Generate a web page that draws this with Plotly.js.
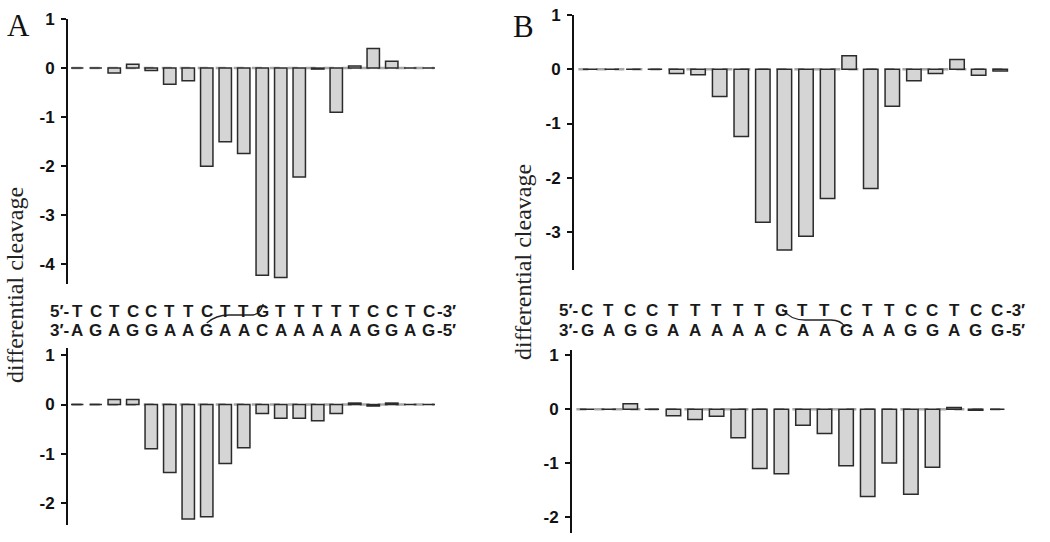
<!DOCTYPE html>
<html>
<head>
<meta charset="utf-8">
<script src="https://cdn.plot.ly/plotly-3.0.1.min.js"></script>
<style>html,body{margin:0;padding:0;background:#fff;}#chart{width:1050px;height:542px;}</style>
</head>
<body>
<div id="chart"></div>
<script>
// ---- data ----
const seqA_top = "TCTCCTTCTTGTTTTTCCTC".split("");
const seqA_bot = "AGAGGAAGAACAAAAAGGAG".split("");
const seqB_top = "CTCCTTTTTGTTCTTCCTCC".split("");
const seqB_bot = "GAGGAAAAACAAGAAGGAGG".split("");

const positions = Array.from({length: 20}, (_, i) => i);

const valuesA_top = [0, 0, -0.1, 0.08, -0.05, -0.33, -0.26, -2.0, -1.5, -1.74, -4.22, -4.27, -2.22, -0.02, -0.9, 0.04, 0.4, 0.14, 0, 0];
const valuesA_bot = [0, 0, 0.1, 0.1, -0.9, -1.38, -2.33, -2.28, -1.2, -0.88, -0.18, -0.28, -0.28, -0.33, -0.18, 0.03, -0.03, 0.03, 0, 0];
const valuesB_top = [0, 0, 0, 0, -0.08, -0.1, -0.5, -1.24, -2.82, -3.33, -3.08, -2.38, 0.25, -2.2, -0.68, -0.21, -0.08, 0.18, -0.11, -0.03];
const valuesB_bot = [0, 0, 0.1, 0, -0.12, -0.19, -0.13, -0.53, -1.1, -1.2, -0.3, -0.45, -1.05, -1.62, -1.0, -1.58, -1.08, 0.03, -0.02, 0];

const ticksA_top = [1, 0, -1, -2, -3, -4];
const ticksA_bot = [1, 0, -1, -2];
const ticksB_top = [1, 0, -1, -2, -3];
const ticksB_bot = [1, 0, -1, -2];
const tickLabel = v => (v < 0 ? "-" + Math.abs(v) : String(v));

const yTitle = "differential cleavage";

// ---- styles ----
const barStyle = {color: "#d5d5d5", line: {color: "#2b2b2b", width: 1.5}};
function bar(vals, xa, ya) {
  return {type: "bar", x: positions, y: vals, xaxis: xa, yaxis: ya,
          marker: barStyle, hoverinfo: "skip"};
}
function yax(domain, range, ticks, anchor) {
  return {domain, range, anchor, tickmode: "array", tickvals: ticks, ticktext: ticks.map(t => "<b>" + tickLabel(t) + "</b>"),
          showgrid: false, zeroline: false, showline: true, linecolor: "#111", linewidth: 2,
          ticks: "outside", ticklen: 5, tickwidth: 2, tickcolor: "#111", ticklabelstandoff: 3,
          tickfont: {family: "Liberation Sans, Arial, sans-serif", size: 17, color: "#111"}};
}
function xax(domain, range, anchor) {
  return {domain, range, anchor, visible: false, showgrid: false, zeroline: false, fixedrange: true};
}

const traces = [
  bar(valuesA_top, "x", "y"),
  bar(valuesA_bot, "x2", "y2"),
  bar(valuesB_top, "x3", "y3"),
  bar(valuesB_bot, "x4", "y4")
];

const layout = {
  width: 1050, height: 542,
  margin: {l: 0, r: 0, t: 0, b: 0},
  paper_bgcolor: "#fff", plot_bgcolor: "rgba(0,0,0,0)",
  showlegend: false, bargap: 0.33,
  xaxis:  xax([68/1050, 438/1050], [-0.5, 19.5], "y"),
  yaxis:  yax([258/542, 523/542], [-4.4, 1], ticksA_top, "x"),
  xaxis2: xax([68/1050, 438/1050], [-0.5, 19.5], "y2"),
  yaxis2: yax([17/542, 194/542], [-2.45, 1.15], ticksA_bot, "x2"),
  xaxis3: xax([574/1050, 1011/1050], [-0.75, 19.5], "y3"),
  yaxis3: yax([272/542, 527/542], [-3.7, 1], ticksB_top, "x3"),
  xaxis4: xax([572/1050, 1008/1050], [-0.7, 19.5], "y4"),
  yaxis4: yax([9/542, 192/542], [-2.3, 1.1], ticksB_bot, "x4"),
  shapes: [],
  annotations: []
};

// dashed zero baselines
[["x", "y"], ["x2", "y2"], ["x3", "y3"], ["x4", "y4"]].forEach(([xa, ya]) => {
  layout.shapes.push({type: "line", layer: "below", xref: xa + " domain", yref: ya,
    x0: 0.01, x1: 0.99, y0: 0, y1: 0, line: {color: "#a8a8a8", width: 2.5, dash: "10px,8px"}});
});

// sequences
const seqFont = {family: "Liberation Sans, Arial, sans-serif", size: 17, color: "#1a1a1a"};
function addSeq(letters, xa, yPaper, left, right) {
  letters.forEach((ch, i) => {
    layout.annotations.push({xref: xa, yref: "paper", x: positions[i], y: yPaper, text: "<b>" + ch + "</b>",
      showarrow: false, font: seqFont, xanchor: "center", yanchor: "middle"});
  });
  layout.annotations.push({xref: xa, yref: "paper", x: -0.32, y: yPaper, text: "<b>" + left + "</b>",
    showarrow: false, font: seqFont, xanchor: "right", yanchor: "middle"});
  layout.annotations.push({xref: xa, yref: "paper", x: 19.32, y: yPaper, text: "<b>" + right + "</b>",
    showarrow: false, font: seqFont, xanchor: "left", yanchor: "middle"});
}
addSeq(seqA_top, "x2", (542-311)/542, "5\u2032-", "-3\u2032");
addSeq(seqA_bot, "x2", (542-330)/542, "3\u2032-", "-5\u2032");
addSeq(seqB_top, "x4", (542-310)/542, "5\u2032-", "-3\u2032");
addSeq(seqB_bot, "x4", (542-330)/542, "3\u2032-", "-5\u2032");

// crosslink connectors
const py = y => ((542 - y) / 542).toFixed(4);
layout.shapes.push({type: "path", xref: "x2", yref: "paper",
  path: `M 7,${py(323)} Q 7.5,${py(315)} 8.2,${py(315)} L 9.5,${py(315)} Q 9.9,${py(314)} 10.05,${py(304)}`,
  line: {color: "#222", width: 1.3}});
layout.shapes.push({type: "path", xref: "x4", yref: "paper",
  path: `M 9.05,${py(309)} Q 9.4,${py(320)} 10.1,${py(320)} L 11.3,${py(320)} Q 11.75,${py(320)} 11.95,${py(327)}`,
  line: {color: "#222", width: 1.3}});

// axis titles and panel letters
const serif = "Liberation Serif, Times New Roman, serif";
layout.annotations.push({xref: "paper", yref: "paper", x: 15/1050, y: (542-285)/542, text: yTitle,
  textangle: -90, showarrow: false, font: {family: serif, size: 24, color: "#222"}, xanchor: "center", yanchor: "middle"});
layout.annotations.push({xref: "paper", yref: "paper", x: 523/1050, y: (542-262)/542, text: yTitle,
  textangle: -90, showarrow: false, font: {family: serif, size: 24, color: "#222"}, xanchor: "center", yanchor: "middle"});
layout.annotations.push({xref: "paper", yref: "paper", x: 18/1050, y: (542-25)/542, text: "A",
  showarrow: false, font: {family: serif, size: 31, color: "#111"}, xanchor: "center", yanchor: "middle"});
layout.annotations.push({xref: "paper", yref: "paper", x: 523/1050, y: (542-26)/542, text: "B",
  showarrow: false, font: {family: serif, size: 31, color: "#111"}, xanchor: "center", yanchor: "middle"});

Plotly.newPlot("chart", traces, layout, {staticPlot: true, displayModeBar: false});
</script>
</body>
</html>
